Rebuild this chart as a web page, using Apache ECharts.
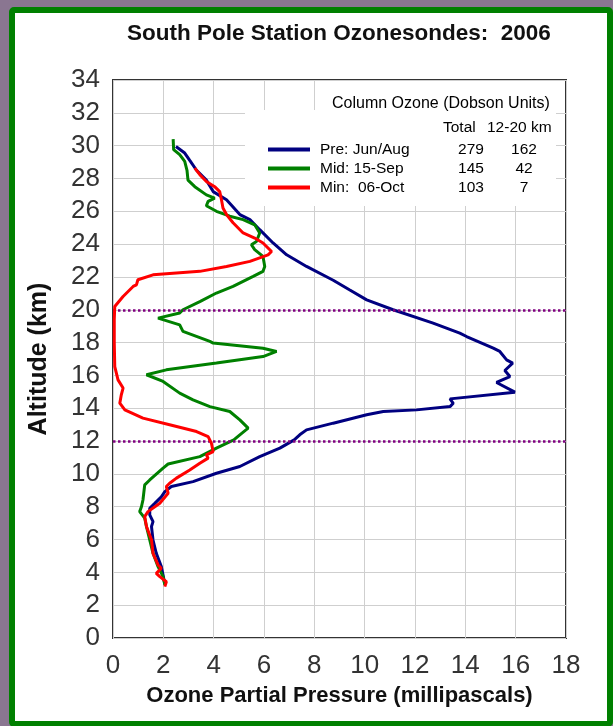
<!DOCTYPE html>
<html>
<head>
<meta charset="utf-8">
<script src="https://cdn.jsdelivr.net/npm/echarts@6/dist/echarts.min.js"></script>
<style>
  html, body { margin: 0; padding: 0; }
  body { width: 613px; height: 726px; background: #8a7691; position: relative; overflow: hidden; }
  .frame { position: absolute; left: 9px; top: 7px; width: 604px; height: 720px; box-sizing: border-box;
           border: 6px solid #008000; border-radius: 5px; background: #fff; }
  #chart { position: absolute; left: 0; top: 0; width: 613px; height: 726px; }
</style>
</head>
<body>
<div class="frame"></div>
<div id="chart"></div>
<script>
// ozone partial pressure (mPa) against altitude (km)
const preAlt = [3.3, 4.35, 5.16, 5.97, 6.79, 7.09, 7.5, 7.9, 8.2, 8.6, 8.92, 9.23, 9.53, 10.04, 10.45, 11.05, 11.57, 12.07, 12.38, 12.68,
  13.09, 13.6, 13.8, 13.9, 14.1, 14.3, 14.57, 14.98, 15.57, 15.93, 16.3, 16.75, 16.95, 17.46, 17.66, 18.37, 18.58, 19.19, 20.0, 20.6,
  21.2, 21.8, 22.64, 23.35, 24.07, 24.88, 25.49, 25.8, 26.7, 27.2, 27.9, 28.5, 29.1, 29.55, 29.95];
const preVal = [2.06, 1.92, 1.72, 1.59, 1.53, 1.59, 1.46, 1.46, 1.66, 1.92, 2.06, 2.32, 3.18, 4.11, 5.04, 5.83, 6.63, 7.2, 7.42, 7.69,
  8.75, 10.08, 10.74, 12.06, 13.39, 13.52, 13.39, 15.97, 15.24, 15.77, 15.57, 15.88, 15.64, 15.37, 15.11, 14.05, 13.78, 12.72, 11.13, 10.08,
  9.41, 8.75, 7.69, 6.9, 6.36, 5.83, 5.44, 5.04, 4.51, 3.98, 3.71, 3.32, 3.05, 2.85, 2.5];

const midAlt = [3.23, 3.74, 4.35, 5.16, 5.98, 6.79, 7.3, 7.7, 8.0, 8.41, 9.33, 9.63, 10.35, 10.6, 11.05, 11.57, 12.07, 12.38, 12.79, 13.29,
  13.8, 14.1, 14.51, 14.92, 15.63, 16.04, 16.34, 16.75, 17.15, 17.46, 17.66, 17.97, 18.07, 18.68, 19.08, 19.49, 19.8, 20.0, 20.5, 21.02,
  21.42, 22.03, 22.34, 22.64, 23.25, 23.66, 23.96, 24.16, 24.68, 25.18, 25.49, 25.7, 26.0, 26.34, 26.6, 26.8, 27.0, 27.5, 27.9, 28.5,
  29.04, 29.45, 29.76, 30.4];
const midVal = [2.06, 1.99, 1.79, 1.59, 1.46, 1.33, 1.26, 1.06, 1.13, 1.19, 1.26, 1.46, 1.99, 2.19, 3.45, 4.11, 4.8, 5.04, 5.37, 5.04,
  4.64, 3.85, 3.18, 2.65, 1.99, 1.33, 2.12, 4.11, 5.96, 6.5, 5.96, 3.98, 3.85, 2.78, 2.65, 1.79, 2.65, 2.78, 3.45, 4.11,
  4.77, 5.57, 5.96, 6.03, 5.96, 5.63, 5.5, 5.7, 5.83, 5.63, 5.17, 4.64, 4.11, 3.71, 3.78, 4.04, 3.71, 3.25, 2.98, 2.94,
  2.85, 2.65, 2.41, 2.39];

const minAlt = [3.13, 3.43, 3.74, 3.94, 4.25, 4.45, 5.16, 5.98, 6.79, 7.4, 7.7, 8.21, 8.82, 9.23, 9.43, 9.74, 10.24, 10.65, 10.96, 11.16,
  11.36, 11.87, 12.27, 12.58, 12.99, 13.4, 13.9, 14.31, 14.82, 15.23, 15.73, 16.54, 18.0, 19.4, 20.2, 20.81, 21.42, 21.52, 21.83, 22.13,
  22.34, 22.64, 22.95, 23.35, 23.55, 24.07, 24.37, 24.68, 25.3, 25.8, 26.2, 26.7, 27.2, 27.5, 27.82, 28.23, 28.63];
const minVal = [2.06, 2.12, 1.86, 1.72, 1.92, 1.79, 1.59, 1.53, 1.33, 1.26, 1.39, 1.86, 2.19, 2.12, 2.25, 2.52, 3.05, 3.45, 3.78, 3.71,
  3.98, 3.91, 3.78, 3.32, 2.25, 1.19, 0.47, 0.27, 0.33, 0.4, 0.2, 0.07, 0.05, 0.05, 0.07, 0.4, 0.8, 0.93, 0.99, 1.59,
  3.45, 4.51, 5.44, 6.16, 6.3, 5.96, 5.63, 5.17, 4.77, 4.51, 4.37, 4.31, 4.24, 4.04, 3.71, 3.45, 3.25];

const seriesNames = ['Pre: Jun/Aug', 'Mid: 15-Sep', 'Min:  06-Oct'];
const seriesColors = ['#000080', '#008000', '#ff0000'];
const totalDU = [279, 145, 103];
const layerDU = [162, 42, 7];
const layerBounds = [20, 12];  // km, dotted lines

const FONT = 'Liberation Sans, Arial, sans-serif';

function pairs(vals, alts) {
  return vals.map((v, i) => [v, alts[i]]);
}
const profiles = [pairs(preVal, preAlt), pairs(midVal, midAlt), pairs(minVal, minAlt)];

const series = profiles.map((d, i) => ({
  name: seriesNames[i],
  type: 'line',
  data: d,
  showSymbol: false,
  color: seriesColors[i],
  lineStyle: { width: 3, color: seriesColors[i] },
  z: 3 + i
}));
series[0].markLine = {
  silent: true,
  symbol: ['none', 'none'],
  label: { show: false },
  lineStyle: { color: '#800080', width: 2.5, type: [2.5, 2.5] },
  data: layerBounds.map(v => ({ yAxis: v }))
};

const chart = echarts.init(document.getElementById('chart'));
chart.setOption({
  animation: false,
  backgroundColor: 'transparent',
  textStyle: { fontFamily: FONT },
  title: {
    text: 'South Pole Station Ozonesondes:  2006',
    left: 127, top: 22, padding: 0,
    textStyle: { fontFamily: FONT, fontSize: 22.5, fontWeight: 'bold', color: '#111' }
  },
  grid: {
    left: 113, right: 47, top: 80, bottom: 88,
    show: true, borderColor: '#333', borderWidth: 2
  },
  xAxis: {
    type: 'value', min: 0, max: 18, interval: 2,
    name: 'Ozone Partial Pressure (millipascals)',
    nameLocation: 'middle', nameGap: 47,
    nameTextStyle: { fontFamily: FONT, fontSize: 22, fontWeight: 'bold', color: '#111' },
    axisLine: { show: false },
    axisTick: { show: false },
    axisLabel: { fontFamily: FONT, fontSize: 26, color: '#333', margin: 15 },
    splitLine: { lineStyle: { color: '#cfcfcf', width: 1 } }
  },
  yAxis: {
    type: 'value', min: 0, max: 34, interval: 2,
    name: 'Altitude (km)',
    nameLocation: 'middle', nameGap: 61, nameRotate: 90,
    nameTextStyle: { fontFamily: FONT, fontSize: 25, fontWeight: 'bold', color: '#111' },
    axisLine: { show: false },
    axisTick: { show: false },
    axisLabel: { fontFamily: FONT, fontSize: 26, color: '#333', margin: 13 },
    splitLine: { lineStyle: { color: '#cfcfcf', width: 1 } }
  },
  legend: {
    orient: 'vertical',
    left: 268, top: 140, padding: 0,
    itemGap: 0, itemWidth: 42, itemHeight: 4,
    icon: 'rect',
    selectedMode: false,
    data: seriesNames,
    formatter: name => {
      const i = seriesNames.indexOf(name);
      return '{p| }{n|' + name + '}{a|' + totalDU[i] + '}{b|' + layerDU[i] + '}';
    },
    textStyle: {
      fontFamily: FONT, fontSize: 15.5, color: '#000', lineHeight: 19,
      rich: {
        p: { width: 5 },
        n: { width: 131, align: 'left', fontSize: 15.5, lineHeight: 19 },
        a: { width: 40, align: 'center', fontSize: 15.5, lineHeight: 19 },
        b: { width: 66, align: 'center', fontSize: 15.5, lineHeight: 19 }
      }
    }
  },
  graphic: [
    { type: 'rect', z: 1, silent: true, shape: { x: 316, y: 81, width: 240, height: 30 }, style: { fill: '#fff' } },
    { type: 'rect', z: 1, silent: true, shape: { x: 245, y: 110, width: 311, height: 96 }, style: { fill: '#fff' } },
    { type: 'text', z: 5, x: 332, y: 104, style: { text: 'Column Ozone (Dobson Units)', font: '16px ' + FONT, fill: '#000', verticalAlign: 'middle' } },
    { type: 'text', z: 5, x: 443, y: 128, style: { text: 'Total', font: '15.5px ' + FONT, fill: '#000', verticalAlign: 'middle' } },
    { type: 'text', z: 5, x: 487, y: 128, style: { text: '12-20 km', font: '15.5px ' + FONT, fill: '#000', verticalAlign: 'middle' } }
  ],
  series: series
});
</script>
</body>
</html>
